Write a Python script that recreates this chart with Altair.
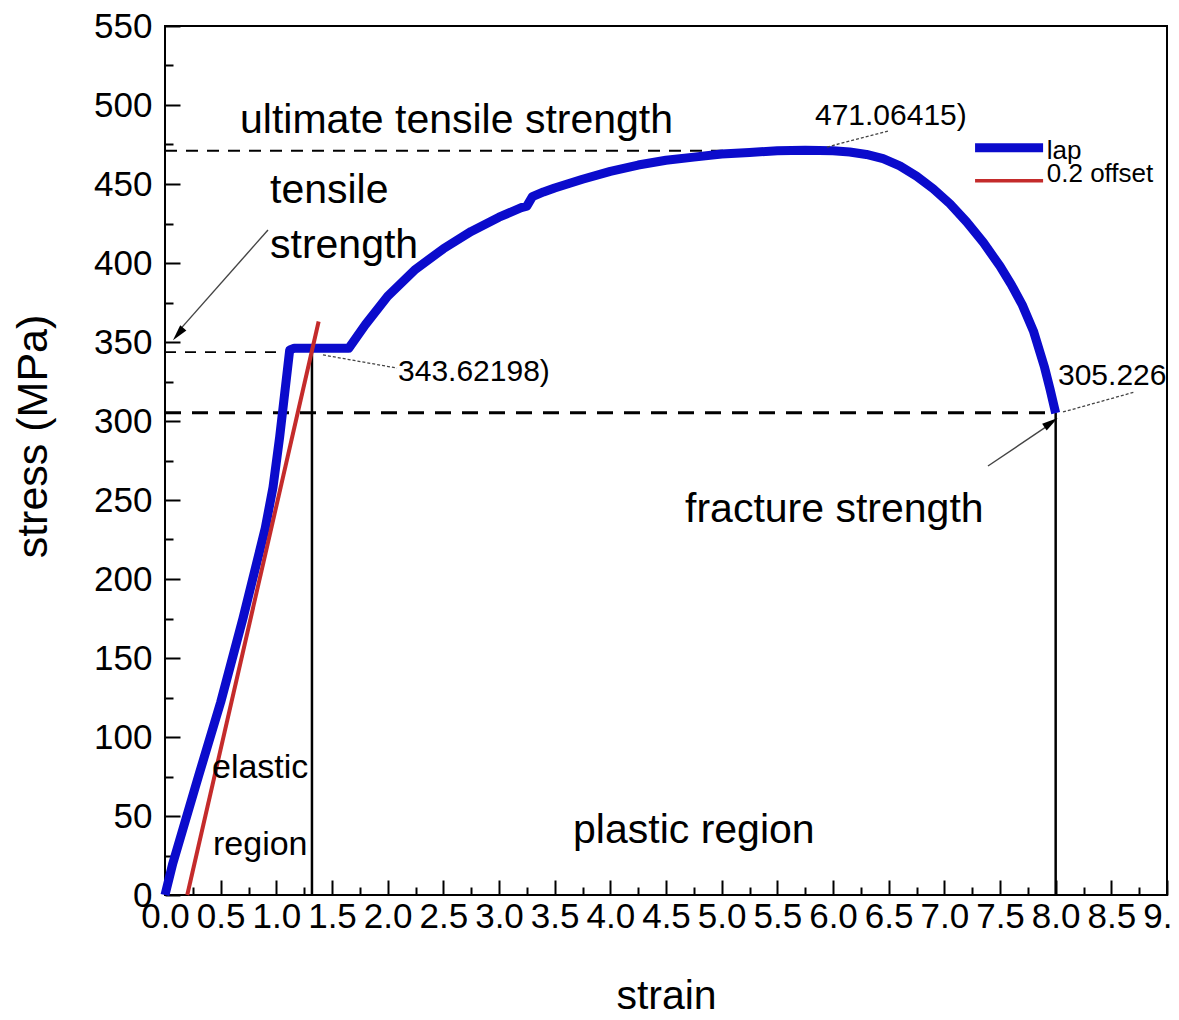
import altair as alt
import pandas as pd

F = "Liberation Sans"

# ---- data ----
lap_strain = [0.0, 0.07, 0.3, 0.5, 0.7, 0.9, 0.97, 1.03, 1.12, 1.16, 1.65, 1.8, 2.0, 2.25,
              2.5, 2.75, 3.0, 3.2, 3.25, 3.3, 3.4, 3.5, 3.75, 4.0, 4.25, 4.5, 4.75, 5.0,
              5.25, 5.5, 5.75, 6.0, 6.15, 6.3, 6.45, 6.6, 6.75, 6.9, 7.05, 7.2, 7.35, 7.5,
              7.6, 7.7, 7.8, 7.9, 7.95, 8.0]
lap_stress = [0, 20, 75, 122, 175, 232, 258, 290, 345, 346, 346, 361, 379, 396,
              409, 420, 429, 435, 436, 442, 445, 447.5, 453, 458, 462, 465, 467, 469,
              470, 471, 471.3, 471, 470.3, 468.7, 466, 461.5, 455, 447, 437.5, 426, 413, 398,
              386.5, 373.5, 357, 334, 320, 305]

offset_strain = [0.2, 1.38]
offset_stress = [0, 363]

x_major = [0.0, 0.5, 1.0, 1.5, 2.0, 2.5, 3.0, 3.5, 4.0, 4.5, 5.0, 5.5, 6.0, 6.5, 7.0,
           7.5, 8.0, 8.5, 9.0]
x_minor = [0.25, 0.75, 1.25, 1.75, 2.25, 2.75, 3.25, 3.75, 4.25, 4.75, 5.25, 5.75,
           6.25, 6.75, 7.25, 7.75, 8.25, 8.75]
y_major = [0, 50, 100, 150, 200, 250, 300, 350, 400, 450, 500, 550]
y_minor = [25, 75, 125, 175, 225, 275, 325, 375, 425, 475, 525]

# dashed reference lines: level, x-start, x-end
dash_level = [471.06415, 343.62198, 305.226]
dash_x0 = [0.0, 0.0, 0.0]
dash_x1 = [6.0, 1.13, 8.0]
dash_w = [2.0, 1.6, 3.0]
dash_pat = [[12, 9], [11, 9], [16, 11]]

# vertical black lines
vline_x = [1.32, 8.0]
vline_top = [343.62198, 305.226]

# dotted leader lines
lead_x = [1.419, 5.946, 8.066]
lead_y = [341.8, 473.4, 305.7]
lead_x2 = [2.084, 6.494, 8.713]
lead_y2 = [333.5, 483.5, 318.4]

# arrows
arr_x = [0.925, 7.392]
arr_y = [420.9, 271.5]
arr_x2 = [0.13, 7.94]
arr_y2 = [357.5, 297.5]
head_x = [0.123, 7.952]
head_y = [355.5, 298.7]
head_angle = [220, 56]

# annotation texts
ann_text = ["ultimate tensile strength", "tensile", "strength", "fracture strength",
            "plastic region", "elastic", "region", "343.62198)", "471.06415)", "305.226"]
ann_x = [0.674, 0.943, 0.943, 4.671, 3.665, 0.422, 0.431, 2.093, 5.838, 8.021]
ann_y = [482.3, 438.0, 403.2, 236.1, 32.9, 74.1, 25.3, 325.3, 487.3, 322.8]
ann_size = [41, 41, 41, 41, 41, 34, 34, 30, 30, 30]

# legend
leg_label = ["lap", "0.2 offset"]
leg_color = ["#0b0bcc", "#c42b2b"]
leg_w = [9, 3.5]
leg_x0 = [7.276, 7.276]
leg_x1 = [7.887, 7.887]
leg_y = [473.0, 452.0]
leg_tx = [7.92, 7.92]
leg_ty = [466.0, 451.0]

# ---- build ----
XS = alt.Scale(domain=[0, 9], nice=False, zero=False)
YS = alt.Scale(domain=[0, 550], nice=False, zero=False)


def X(f, axis=None):
    return alt.X(f, type="quantitative", scale=XS, axis=axis)


def Y(f, axis=None):
    return alt.Y(f, type="quantitative", scale=YS, axis=axis)


lap = pd.DataFrame({"x": lap_strain, "y": lap_stress})
off = pd.DataFrame({"x": offset_strain, "y": offset_stress})

label_x_axis = alt.Axis(orient="bottom", values=x_major, format=".1f", ticks=False, tickSize=0,
                        domain=False, grid=False, labelFont=F, labelFontSize=35,
                        labelColor="black", labelPadding=4, labelOverlap=False,
                        labelFlush=False, labelBound=False, title="strain", titleFont=F,
                        titleFontSize=41, titleFontWeight="normal", titleColor="black",
                        titleX=501, titleY=113, titleBaseline="alphabetic", titleAlign="center")
label_y_axis = alt.Axis(orient="left", values=y_major, format="d", ticks=False, tickSize=0,
                        domain=False, grid=False, labelFont=F, labelFontSize=35,
                        labelColor="black", labelPadding=13, labelOverlap=False,
                        labelFlush=False, labelBound=False, title="stress (MPa)", titleFont=F,
                        titleFontSize=43, titleFontWeight="normal", titleColor="black",
                        titleX=-119, titleY=410, titleAngle=270, titleBaseline="alphabetic",
                        titleAlign="center")

labels_layer = alt.Chart(lap).mark_line(opacity=0).encode(
    x=X("x", label_x_axis), y=Y("y", label_y_axis))


def tick_axis(orient, vals, size):
    return alt.Axis(orient=orient, values=vals, labels=False, ticks=True, tickSize=size,
                    tickWidth=2, tickColor="black", domain=False, grid=False,
                    offset=-size, title=None)


xmaj = alt.Chart(lap).mark_line(opacity=0).encode(x=X("x", tick_axis("bottom", x_major, 15)), y=Y("y"))
xmin = alt.Chart(lap).mark_line(opacity=0).encode(x=X("x", tick_axis("bottom", x_minor, 8)), y=Y("y"))
ymaj = alt.Chart(lap).mark_line(opacity=0).encode(x=X("x"), y=Y("y", tick_axis("left", y_major, 15)))
ymin = alt.Chart(lap).mark_line(opacity=0).encode(x=X("x"), y=Y("y", tick_axis("left", y_minor, 8)))

dash_layers = []
for lv, a, b, w, p in zip(dash_level, dash_x0, dash_x1, dash_w, dash_pat):
    d = pd.DataFrame({"x": [a], "x2": [b], "y": [lv]})
    dash_layers.append(alt.Chart(d).mark_rule(color="black", strokeWidth=w, strokeDash=p).encode(
        x=X("x"), x2="x2", y=Y("y")))

vl = pd.DataFrame({"x": vline_x, "y": [0, 0], "y2": vline_top})
vlines = alt.Chart(vl).mark_rule(color="black", strokeWidth=2.5).encode(x=X("x"), y=Y("y"), y2="y2")

blue = alt.Chart(lap).mark_line(color=leg_color[0], strokeWidth=9, strokeJoin="round").encode(
    x=X("x"), y=Y("y"), order="x")
red = alt.Chart(off).mark_line(color=leg_color[1], strokeWidth=4).encode(x=X("x"), y=Y("y"))

ld = pd.DataFrame({"x": lead_x, "y": lead_y, "x2": lead_x2, "y2": lead_y2})
leads = alt.Chart(ld).mark_rule(color="#444", strokeWidth=1.3, strokeDash=[3, 2]).encode(
    x=X("x"), y=Y("y"), x2="x2", y2="y2")

ad = pd.DataFrame({"x": arr_x, "y": arr_y, "x2": arr_x2, "y2": arr_y2})
arrows = alt.Chart(ad).mark_rule(color="#444", strokeWidth=1.4).encode(
    x=X("x"), y=Y("y"), x2="x2", y2="y2")
hd = pd.DataFrame({"x": head_x, "y": head_y, "a": head_angle})
heads = alt.Chart(hd).mark_point(shape="M0,-1L0.45,0.8L-0.45,0.8Z", filled=True, color="black",
                                 opacity=1, size=320).encode(
    x=X("x"), y=Y("y"), angle=alt.Angle("a:Q", scale=None))

td = pd.DataFrame({"x": ann_x, "y": ann_y, "t": ann_text, "s": ann_size})
texts = alt.Chart(td).mark_text(align="left", baseline="alphabetic", font=F, color="black").encode(
    x=X("x"), y=Y("y"), text="t:N", size=alt.Size("s:Q", scale=None))

lgd = pd.DataFrame({"x": leg_x0, "x2": leg_x1, "y": leg_y, "c": leg_color, "w": leg_w,
                    "tx": leg_tx, "ty": leg_ty, "t": leg_label})
leg_lines = alt.Chart(lgd).mark_rule().encode(
    x=X("x"), x2="x2", y=Y("y"), color=alt.Color("c:N", scale=None),
    strokeWidth=alt.StrokeWidth("w:Q", scale=None))
leg_text = alt.Chart(lgd).mark_text(align="left", baseline="alphabetic", font=F, fontSize=26,
                                    color="black").encode(x=X("tx"), y=Y("ty"), text="t:N")

chart = alt.layer(
    labels_layer, xmaj, xmin, ymaj, ymin, *dash_layers, vlines, blue, red, leads, arrows,
    heads, texts, leg_lines, leg_text
).resolve_axis(x="independent", y="independent").properties(
    width=1002, height=869,
    autosize=alt.AutoSizeParams(type="none"),
    padding={"left": 157, "top": 18, "right": 4, "bottom": 117},
    background="white",
).configure_view(stroke="black", strokeWidth=2)

chart.save("out.html", embed_options={"renderer": "svg", "actions": False})
